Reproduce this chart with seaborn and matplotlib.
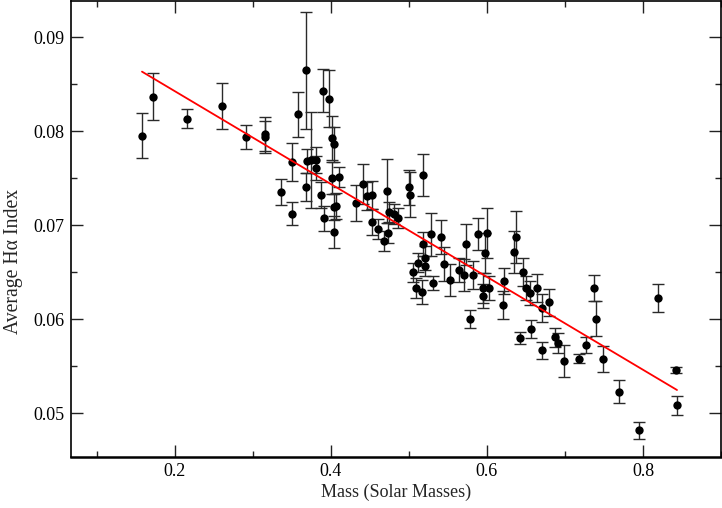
import numpy as np
import pandas as pd
import matplotlib
matplotlib.use("Agg")
import matplotlib.pyplot as plt
from matplotlib.ticker import MultipleLocator
import seaborn as sns

mass = [0.1572, 0.1718, 0.2151, 0.2606, 0.2912, 0.3158, 0.3158, 0.3363, 0.3497, 0.3500,
        0.3572, 0.3674, 0.3683, 0.3696, 0.3744, 0.3812, 0.3803, 0.3876, 0.3905, 0.3897,
        0.3969, 0.4013, 0.4033, 0.4017, 0.4042, 0.4062, 0.4036, 0.4109, 0.4321, 0.4410,
        0.4456, 0.4527, 0.4521, 0.4606, 0.4713, 0.4744, 0.4803, 0.4854, 0.4683, 0.4731,
        0.4995, 0.5019, 0.5177, 0.5179, 0.5279, 0.5414, 0.5046, 0.5094, 0.5115, 0.5167,
        0.5200, 0.5209, 0.5305, 0.5455, 0.5523, 0.5642, 0.5700, 0.5737, 0.5776, 0.5821,
        0.5888, 0.5995, 0.5969, 0.5946, 0.6029, 0.5949, 0.6209, 0.6218, 0.6340, 0.6378,
        0.6417, 0.6462, 0.6497, 0.6549, 0.6642, 0.6568, 0.6699, 0.6705, 0.6799, 0.6869,
        0.6908, 0.6981, 0.7181, 0.7273, 0.7372, 0.7401, 0.7487, 0.7696, 0.7944, 0.8192,
        0.8418, 0.8440]

halpha = [0.07950, 0.08368, 0.08131, 0.08269, 0.07939, 0.07966, 0.07939, 0.07351, 0.07677, 0.07123,
          0.08181, 0.08649, 0.07402, 0.07684, 0.07691, 0.07691, 0.07613, 0.07322, 0.07072, 0.08432,
          0.08347, 0.07926, 0.07862, 0.07503, 0.07191, 0.07200, 0.06926, 0.07512, 0.07234, 0.07434,
          0.07310, 0.07322, 0.07037, 0.06961, 0.07362, 0.07136, 0.07123, 0.07078, 0.06828, 0.06915,
          0.07404, 0.07324, 0.07533, 0.06799, 0.06904, 0.06876, 0.06496, 0.06333, 0.06602, 0.06287,
          0.06564, 0.06647, 0.06383, 0.06585, 0.06415, 0.06522, 0.06473, 0.06794, 0.06001, 0.06474,
          0.06904, 0.06915, 0.06702, 0.06328, 0.06326, 0.06246, 0.06152, 0.06402, 0.06716, 0.06876,
          0.05796, 0.06496, 0.06335, 0.06277, 0.06333, 0.05894, 0.06123, 0.05666, 0.06177, 0.05804,
          0.05748, 0.05556, 0.05578, 0.05723, 0.06333, 0.06003, 0.05574, 0.05227, 0.04815, 0.06223,
          0.05457, 0.05085]

halpha_err = [0.00239, 0.00248, 0.00101, 0.00241, 0.00128, 0.00181, 0.00170, 0.00138, 0.00202, 0.00122,
              0.00239, 0.00624, 0.00149, 0.00128, 0.00511, 0.00138, 0.00128, 0.00138, 0.00133, 0.00229,
              0.00305, 0.00234, 0.00187, 0.00170, 0.00138, 0.00138, 0.00167, 0.00106, 0.00191, 0.00213,
              0.00149, 0.00149, 0.00138, 0.00106, 0.00340, 0.00106, 0.00106, 0.00106, 0.00106, 0.00106,
              0.00186, 0.00239, 0.00227, 0.00128, 0.00230, 0.00184, 0.00106, 0.00106, 0.00106, 0.00128,
              0.00106, 0.00128, 0.00071, 0.00181, 0.00170, 0.00128, 0.00170, 0.00213, 0.00096, 0.00149,
              0.00170, 0.00266, 0.00213, 0.00160, 0.00128, 0.00128, 0.00149, 0.00138, 0.00223, 0.00277,
              0.00064, 0.00149, 0.00128, 0.00128, 0.00149, 0.00096, 0.00149, 0.00090, 0.00146, 0.00106,
              0.00106, 0.00170, 0.00048, 0.00085, 0.00140, 0.00188, 0.00142, 0.00120, 0.00088, 0.00149,
              0.00029, 0.00101]

fit_mass = [0.1577, 0.8436]
fit_halpha = [0.08634, 0.05245]

x_major = [0.2, 0.4, 0.6, 0.8]
y_major = [0.05, 0.06, 0.07, 0.08, 0.09]

df = pd.DataFrame({"mass": mass, "halpha": halpha, "err": halpha_err})
fit_df = pd.DataFrame({"mass": fit_mass, "halpha": fit_halpha})

sns.set_theme(style="ticks")
plt.rcParams['font.family'] = ['Liberation Serif', 'DejaVu Serif']
plt.rcParams['mathtext.fontset'] = 'stix'

fig = plt.figure(figsize=(7.22, 5.08), dpi=100)
ax = fig.add_axes([71/722, 51.3/508, 650/722, 455.7/508])

ax.errorbar(df["mass"], df["halpha"], yerr=df["err"], fmt="none",
            ecolor="#2a2a2a", elinewidth=1.0, capsize=4.6, capthick=1.0, zorder=2)
sns.scatterplot(data=df, x="mass", y="halpha", ax=ax, color="black",
                s=36, edgecolor="black", linewidth=0, zorder=3, legend=False)
sns.lineplot(data=fit_df, x="mass", y="halpha", ax=ax, color="red",
             linewidth=1.3, zorder=4, legend=False)

ax.set_xlim(0.0667, 0.9)
ax.set_ylim(0.04535, 0.09386)
ax.set_xticks(x_major)
ax.set_xticklabels([f"{v:.1f}" for v in x_major])
ax.set_yticks(y_major)
ax.set_yticklabels([f"{v:.2f}" for v in y_major])
ax.xaxis.set_minor_locator(MultipleLocator(0.1))
ax.yaxis.set_minor_locator(MultipleLocator(0.005))

ax.tick_params(which="both", direction="in", top=True, right=True, colors="#222222",
               labelcolor="black", labelsize=13, width=1.0, pad=4.5)
ax.tick_params(which="major", length=8.6)
ax.tick_params(which="minor", length=4.3)

for s in ax.spines.values():
    s.set_linewidth(1.2)
    s.set_color("black")
ax.spines["bottom"].set_linewidth(1.8)

ax.set_xlabel("Mass (Solar Masses)", fontsize=13, labelpad=3)
ax.set_ylabel("Average H\u03b1 Index", fontsize=14.2)
ax.yaxis.set_label_coords(-0.0738, 0.4295)

fig.savefig("out.png", dpi=100)
